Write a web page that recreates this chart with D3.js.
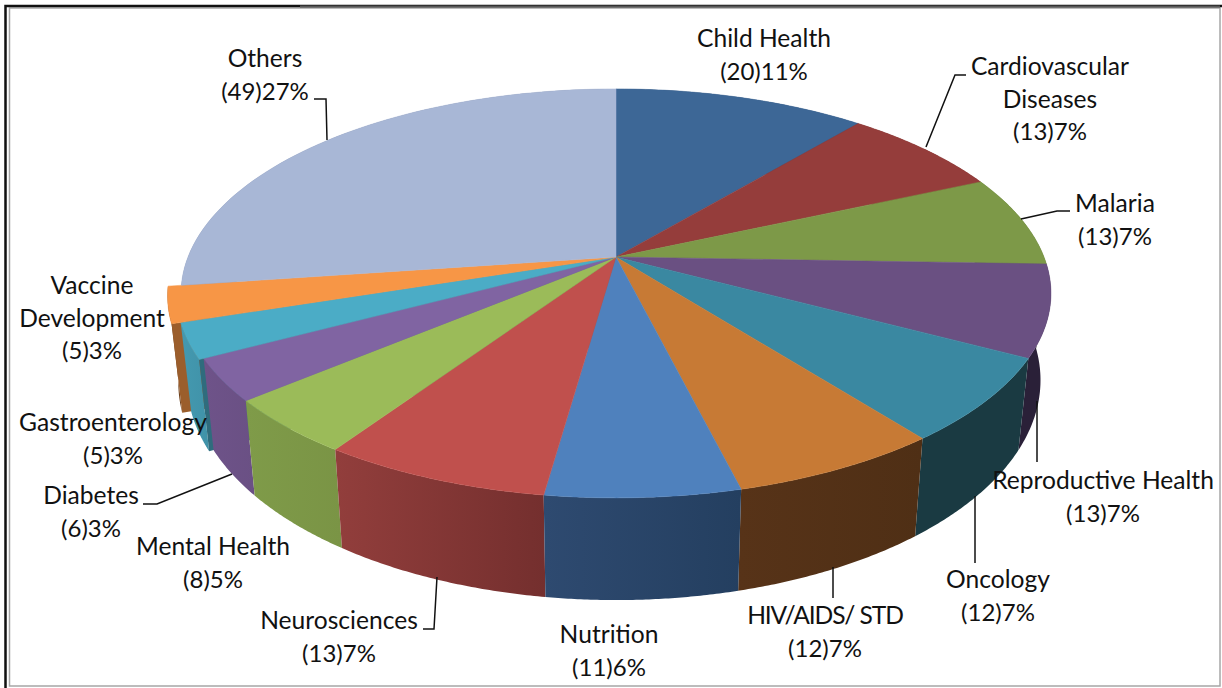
<!DOCTYPE html>
<html>
<head>
<meta charset="utf-8">
<title>Topics pie</title>
<script src="https://cdn.jsdelivr.net/npm/d3@7"></script>
<style>
  html, body { margin: 0; padding: 0; background: #fff; }
  svg { display: block; }
  .lbl { font-family: Lato, "Open Sans", sans-serif; font-size: 24px; fill: #111; text-anchor: middle; }
  .lbl .name { font-size: 24.6px; }
</style>
</head>
<body>
<div id="chart"></div>
<script>
// chart values
var topics = ["Child Health", "Cardiovascular Diseases", "Malaria", "Reproductive Health", "Oncology",
  "HIV/AIDS/ STD", "Nutrition", "Neurosciences", "Mental Health", "Diabetes", "Gastroenterology",
  "Vaccine Development", "Others"];
var counts = [20, 13, 13, 13, 12, 12, 11, 13, 8, 6, 5, 5, 49];
var percents = [11, 7, 7, 7, 7, 7, 6, 7, 5, 3, 3, 3, 27];

// look of the slices
var topColors = ["#3d6796", "#953d3b", "#7d9948", "#6a5082", "#3a88a1", "#c77a35", "#4f81bd",
  "#c0504d", "#9bbb59", "#8064a2", "#4bacc6", "#f79646", "#a8b7d6"];
var wallLeft = ["#2c4a6d", "#6e2d2b", "#5c7035", "#2a2038", "#1a3a42", "#573318", "#2e4a70",
  "#923e3c", "#7f9b49", "#6e5389", "#4499b0", "#6f421d", "#7a88a0"];
var wallRight = ["#2c4a6d", "#6e2d2b", "#5c7035", "#2a2038", "#1a3a42", "#4f2f15", "#243f60",
  "#742f2e", "#7a9445", "#6a5084", "#4092a8", "#6f421d", "#7a88a0"];
var radiusScale = [1, 1, 1, 1, 1, 1, 1, 1, 1, 1, 1.01, 1.03, 1];

// label layout: one [x, baseline of first line] per topic
var labelLines = [["Child Health"], ["Cardiovascular", "Diseases"], ["Malaria"], ["Reproductive Health"],
  ["Oncology"], ["HIV/AIDS/ STD"], ["Nutrition"], ["Neurosciences"], ["Mental Health"], ["Diabetes"],
  ["Gastroenterology"], ["Vaccine", "Development"], ["Others"]];
var labelPos = [[764, 47], [1050, 75], [1115, 212], [1103, 489], [998, 588], [825, 624], [609, 643],
  [339, 629], [213, 555], [91, 504], [113, 431], [92, 294], [265, 67]];
var leaders = [
  [[314, 99], [326, 99], [327, 140]],
  [[966, 75], [955, 75], [926, 147]],
  [[1070, 211], [1057, 211], [1021, 219]],
  [[1037, 401], [1037, 462]],
  [[975, 496], [975, 563]],
  [[833, 567], [833, 598]],
  [[423, 629], [434, 629], [437, 577]],
  [[143, 504], [157, 504], [232, 474]]
];

var svgWidth = 1222, svgHeight = 688;

// pie is seen in perspective, the apex is not the middle of the ellipse
var apexX = 616, apexY = 257;
var radiusX = 428, radiusY = 198, persp = 0.178;
var wallHeight = 84, taper = 0.976;

function project(angle, r, bottom) {
  var u = r * Math.sin(angle);
  var w = -r * Math.cos(angle);
  var den = 1 - persp * w;
  var x = radiusX * u / den;
  var y = radiusY * w / den;
  if (bottom) {
    x = x * taper;
    y = y + wallHeight / den;
  }
  return [apexX + x, apexY + y];
}

function apex(bottom) {
  return bottom ? [apexX, apexY + wallHeight] : [apexX, apexY];
}

function arcPoints(a0, a1, r, bottom) {
  return d3.range(0, 61).map(function(i) {
    return project(a0 + (a1 - a0) * i / 60, r, bottom);
  });
}

var svg = d3.select("#chart").append("svg")
  .attr("width", svgWidth)
  .attr("height", svgHeight);

// frame of the pasted picture
var frame = svg.append("g").attr("fill", "none");
frame.append("rect").attr("x", 9.5).attr("y", 8).attr("width", 1210.5).attr("height", 678)
  .attr("stroke", "#a6a6a6").attr("stroke-width", 1.5);
frame.append("path").attr("d", "M5.5,688V6H1222").attr("stroke", "#111").attr("stroke-width", 2.5);
frame.append("path").attr("d", "M300,6.5H1220").attr("stroke", "#555").attr("stroke-width", 2);

var defs = svg.append("defs");
var line = d3.line();

var pie = d3.pie().sort(null).value(function(d) { return d; });
var slices = pie(counts).map(function(d, i) {
  return {
    i: i,
    a0: d.startAngle,
    a1: d.endAngle,
    r: radiusScale[i],
    depth: -Math.cos((d.startAngle + d.endAngle) / 2)
  };
});

// outer walls, far ones first
var wallOrder = slices.slice().sort(function(a, b) { return d3.ascending(a.depth, b.depth); });
var walls = svg.append("g");

wallOrder.forEach(function(s) {
  var top = arcPoints(s.a0, s.a1, s.r, false);
  var bot = arcPoints(s.a0, s.a1, s.r, true).reverse();
  var xs = top.concat(bot).map(function(p) { return p[0]; });

  var grad = defs.append("linearGradient")
    .attr("id", "wall" + s.i)
    .attr("gradientUnits", "userSpaceOnUse")
    .attr("x1", d3.min(xs)).attr("x2", d3.max(xs))
    .attr("y1", 0).attr("y2", 0);
  grad.append("stop").attr("offset", 0).attr("stop-color", wallLeft[s.i]);
  grad.append("stop").attr("offset", 1).attr("stop-color", wallRight[s.i]);

  walls.append("path")
    .attr("d", line(top.concat(bot)) + "Z")
    .attr("fill", "url(#wall" + s.i + ")");

  // pulled out slices show a bit of their cut face
  if (s.r > 1) {
    var quad = [apex(false), project(s.a0, s.r, false), project(s.a0, s.r, true), apex(true)];
    walls.append("path")
      .attr("d", line(quad) + "Z")
      .attr("fill", d3.color(topColors[s.i]).darker(1.3));
  }
});

// top faces
svg.append("g").selectAll("path")
  .data(slices)
  .enter()
  .append("path")
  .attr("d", function(s) {
    return line([apex(false)].concat(arcPoints(s.a0, s.a1, s.r, false))) + "Z";
  })
  .attr("fill", function(s) { return topColors[s.i]; })
  .attr("stroke", function(s) { return topColors[s.i]; })
  .attr("stroke-width", 0.5);

// leader lines
svg.append("g").selectAll("path")
  .data(leaders)
  .enter()
  .append("path")
  .attr("d", function(d) { return line(d); })
  .attr("fill", "none")
  .attr("stroke", "#111")
  .attr("stroke-width", 1.5);

// labels
var lineGap = 32.7;
topics.forEach(function(name, i) {
  var rows = labelLines[i].concat(["(" + counts[i] + ")" + percents[i] + "%"]);
  var t = svg.append("text")
    .attr("class", "lbl")
    .attr("aria-label", name);
  rows.forEach(function(row, j) {
    var span = t.append("tspan")
      .attr("x", labelPos[i][0])
      .attr("y", labelPos[i][1] + j * lineGap)
      .attr("class", j < rows.length - 1 ? "name" : "share")
      .text(row);
    // caps run wide in this font
    if (row === "HIV/AIDS/ STD") span.style("letter-spacing", "-1.1px");
  });
});
</script>
</body>
</html>
